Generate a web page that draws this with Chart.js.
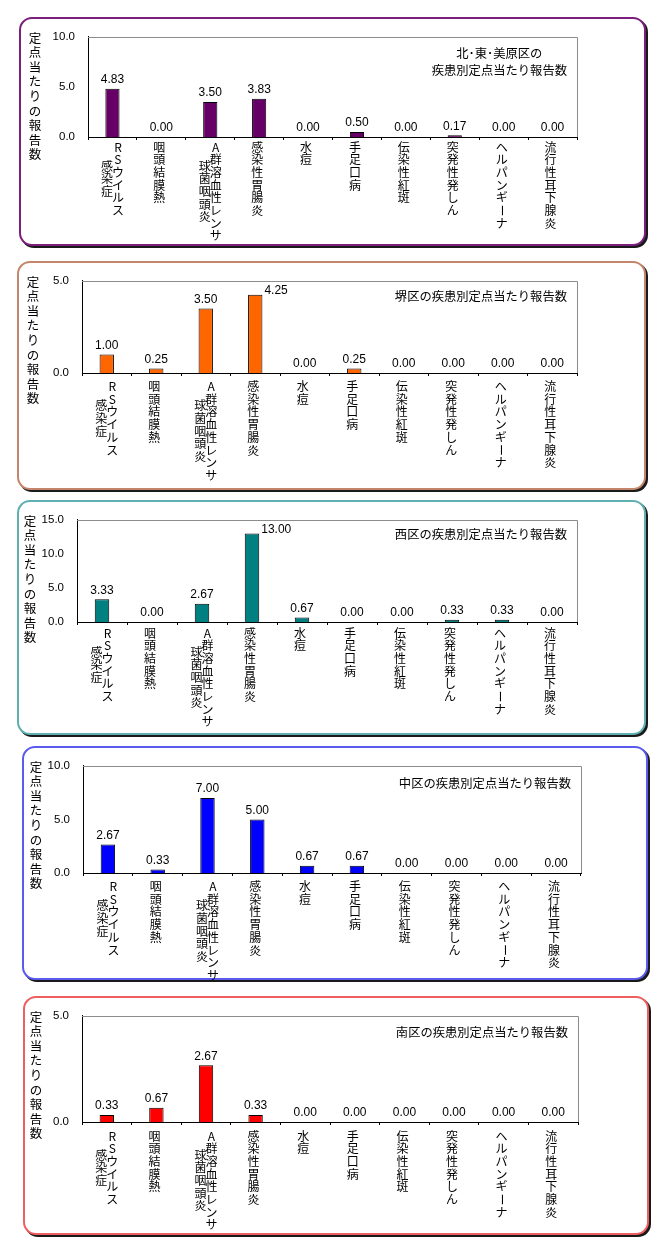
<!DOCTYPE html>
<html><head><meta charset="utf-8">
<script src="https://cdn.jsdelivr.net/npm/chart.js@4.4.1/dist/chart.umd.min.js"></script>
<style>
html,body{margin:0;padding:0;background:#fff;}
body{width:660px;height:1257px;position:relative;overflow:hidden;}
.box{position:absolute;box-sizing:border-box;border:2px solid;border-radius:13px;box-shadow:2px 2px 0 #1a1a1a;background:#fff;}
canvas{position:absolute;left:0;}
</style></head><body>
<script>
// ---- data ----
const categories = ["RSウイルス感染症","咽頭結膜熱","A群溶血性レンサ球菌咽頭炎","感染性胃腸炎","水痘","手足口病","伝染性紅斑","突発性発しん","ヘルパンギーナ","流行性耳下腺炎"];
const labelColumns = [["RSウイルス","感染症"],["咽頭結膜熱"],["A群溶血性レンサ","球菌咽頭炎"],["感染性胃腸炎"],["水痘"],["手足口病"],["伝染性紅斑"],["突発性発しん"],["ヘルパンギーナ"],["流行性耳下腺炎"]];
const valuesKitaHigashiMihara = [4.83, 0.00, 3.50, 3.83, 0.00, 0.50, 0.00, 0.17, 0.00, 0.00];
const valuesSakai = [1.00, 0.25, 3.50, 4.25, 0.00, 0.25, 0.00, 0.00, 0.00, 0.00];
const valuesNishi = [3.33, 0.00, 2.67, 13.00, 0.67, 0.00, 0.00, 0.33, 0.33, 0.00];
const valuesNaka = [2.67, 0.33, 7.00, 5.00, 0.67, 0.67, 0.00, 0.00, 0.00, 0.00];
const valuesMinami = [0.33, 0.67, 2.67, 0.33, 0.00, 0.00, 0.00, 0.00, 0.00, 0.00];
const panelTitles = [["北･東･美原区の","疾患別定点当たり報告数"],["堺区の疾患別定点当たり報告数"],["西区の疾患別定点当たり報告数"],["中区の疾患別定点当たり報告数"],["南区の疾患別定点当たり報告数"]];
const yMaxes = [10, 5, 15, 10, 5];
const yTickStep = 5;
const yAxisTitle = "定点当たりの報告数";
const seriesList = [valuesKitaHigashiMihara, valuesSakai, valuesNishi, valuesNaka, valuesMinami];

// ---- layout / style ----
const layouts = [
  {box:[19,17,646,246], plot:[88,32,577,137], frame:'#7d1f7d', bar:'#660066', yTitleX:35, labelGap:10, titleGap:16},
  {box:[17,261,646,490], plot:[82,274,577,373], frame:'#c4866a', bar:'#ff6600', yTitleX:33, labelGap:13.5, titleGap:15},
  {box:[17,500,646,735], plot:[77,518,577,622], frame:'#5fb0b0', bar:'#008080', yTitleX:30, labelGap:11, titleGap:14},
  {box:[22,746,648,980], plot:[83,765,581,873], frame:'#5a5aee', bar:'#0000ff', yTitleX:36, labelGap:13.5, titleGap:17},
  {box:[23,996,649,1235], plot:[82,1011,578,1122], frame:'#ee6060', bar:'#ff0000', yTitleX:36, labelGap:14, titleGap:16}
];
const JP = '"Noto Sans CJK JP","Noto Sans CJK SC",sans-serif';
const NUM = '"Liberation Sans",Arial,sans-serif';
const Y_W = 40, X_H = 6;

function drawVertical(ctx, text, x, yTop, spacing) {
  [...text].forEach((ch, i) => {
    const y = yTop + i * spacing;
    if (ch === 'ー') {
      ctx.save(); ctx.translate(x, y); ctx.rotate(Math.PI / 2); ctx.fillText(ch, 0, 0); ctx.restore();
    } else {
      ctx.fillText(ch, x, y);
    }
  });
}

const decor = {
  id: 'decor',
  beforeDatasetsDraw(chart) {
    const {ctx, chartArea: a} = chart;
    ctx.save();
    ctx.strokeStyle = '#8c8c8c'; ctx.lineWidth = 1;
    ctx.beginPath();
    ctx.moveTo(a.left, Math.round(a.top) + 0.5);
    ctx.lineTo(Math.round(a.right) + 0.5, Math.round(a.top) + 0.5);
    ctx.lineTo(Math.round(a.right) + 0.5, a.bottom);
    ctx.stroke();
    ctx.restore();
  },
  afterDraw(chart, args, o) {
    const {ctx, chartArea: a} = chart;
    const L = o.layout;
    ctx.save();
    ctx.fillStyle = '#000';
    // panel title
    ctx.font = '12.3px ' + JP;
    ctx.textBaseline = 'middle'; ctx.textAlign = 'center';
    const maxW = Math.max(...o.title.map(t => ctx.measureText(t).width));
    const cxT = a.right - 10 - maxW / 2;
    o.title.forEach((t, k) => ctx.fillText(t, cxT, a.top + L.titleGap + k * 17));
    // y axis title (vertical, upright)
    ctx.font = '12.5px ' + JP;
    drawVertical(ctx, yAxisTitle, L.yTitleX, a.top + 1, 14.6);
    // category labels (vertical)
    ctx.font = '12px ' + JP;
    const xs = chart.scales.x;
    labelColumns.forEach((cols, i) => {
      const cx = xs.getPixelForValue(i);
      const n = cols.length;
      const maxLen = Math.max(...cols.map(c => [...c].length));
      const shift = n === 1 ? -2 : 0;
      cols.forEach((c, j) => {
        const x = cx + shift + ((n - 1) / 2 - j) * 11;
        const y0 = a.bottom + L.labelGap + (maxLen - [...c].length) / 2 * 12.7;
        drawVertical(ctx, c, x, y0, 12.7);
      });
    });
    // value labels
    ctx.font = '12px ' + NUM;
    const meta = chart.getDatasetMeta(0);
    const data = chart.data.datasets[0].data;
    meta.data.forEach((bar, i) => {
      const txt = data[i].toFixed(2);
      let x = bar.x, y = bar.y - 9;
      ctx.textAlign = 'center';
      if (y - 7 < a.top) {
        x = bar.x + bar.width / 2 + 2; y = bar.y - 4; ctx.textAlign = 'left';
      }
      ctx.fillText(txt, x, y);
    });
    ctx.restore();
  }
};

layouts.forEach((L, p) => {
  const [bl, bt, br, bb] = L.box;
  const box = document.createElement('div');
  box.className = 'box';
  Object.assign(box.style, {left: bl + 'px', top: bt + 'px', width: (br - bl) + 'px', height: (bb - bt) + 'px', borderColor: L.frame});
  document.body.appendChild(box);
  const cv = document.createElement('canvas');
  const H = bb - bt + 2;
  cv.width = 660; cv.height = H;
  cv.style.width = '660px'; cv.style.height = H + 'px'; cv.style.top = bt + 'px';
  document.body.appendChild(cv);
  const [pl, pt, pr, pb] = L.plot;
  new Chart(cv, {
    type: 'bar',
    data: {labels: categories, datasets: [{data: seriesList[p], backgroundColor: L.bar, borderColor: '#000', borderWidth: 1, barPercentage: 0.29, categoryPercentage: 1}]},
    options: {
      responsive: false, animation: false,
      layout: {padding: {left: pl - Y_W, top: pt - bt, right: 660 - pr, bottom: H - (pb - bt) - X_H}},
      plugins: {legend: {display: false}, tooltip: {enabled: false}, title: {display: false},
        decor: {layout: L, title: panelTitles[p]}},
      scales: {
        x: {
          grid: {display: true, drawOnChartArea: false, drawTicks: true, tickLength: 3, color: '#000', offset: true},
          border: {display: true, color: '#000', width: 1},
          ticks: {display: false},
          afterFit(s) { s.height = X_H; }
        },
        y: {
          min: 0, max: yMaxes[p],
          grid: {display: false, drawTicks: false, tickLength: 0},
          border: {display: true, color: '#000', width: 1},
          ticks: {stepSize: yTickStep, padding: 13, color: '#000', font: {family: NUM, size: 11.5}, callback: v => Number(v).toFixed(1)},
          afterFit(s) { s.width = Y_W; }
        }
      }
    },
    plugins: [decor]
  });
});
</script>
</body></html>
